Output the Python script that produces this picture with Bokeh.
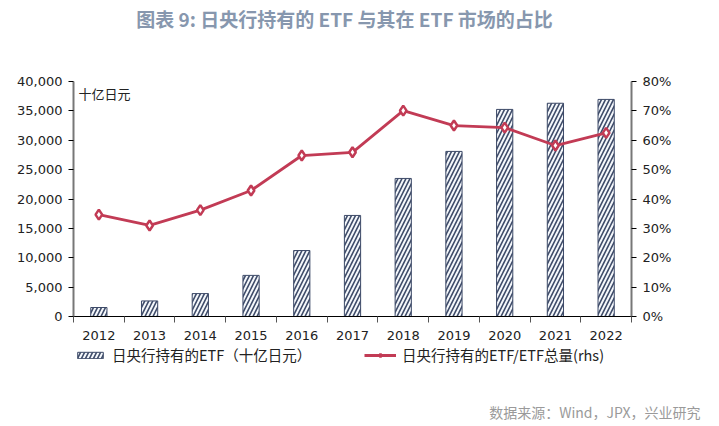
from bokeh.plotting import figure
from bokeh.layouts import column
from bokeh.models import (Range1d, LinearAxis, FixedTicker, NumeralTickFormatter,
                          Legend, LegendItem, Label, ColumnDataSource,
                          CustomJSTickFormatter)
from bokeh.embed import file_html
from bokeh.resources import INLINE

years = [2012, 2013, 2014, 2015, 2016, 2017, 2018, 2019, 2020, 2021, 2022]
boj_etf = [1530, 2650, 3900, 7000, 11230, 17200, 23500, 28100, 35250, 36300, 36950]
boj_share = [34.7, 31.0, 36.2, 42.9, 54.8, 55.9, 70.1, 65.0, 64.3, 58.2, 62.5]
left_ticks = [0, 5000, 10000, 15000, 20000, 25000, 30000, 35000, 40000]
right_ticks = [0, 10, 20, 30, 40, 50, 60, 70, 80]

title_text = "图表 9: 日央行持有的 ETF 与其在 ETF 市场的占比"
unit_text = "十亿日元"
bar_label = "日央行持有的ETF（十亿日元）"
line_label = "日央行持有的ETF/ETF总量(rhs)"
source_text = "数据来源：Wind，JPX，兴业研究"

CJK = "Noto Sans CJK SC"
TICKF = "DejaVu Sans"
navy = "#3d4a68"
red = "#c23b55"
bar_fill = "#f4f7fb"

W = 715
TOP_H, BOT_H = 40, 76
BL, BR, BT, BB = 73, 84, 41, 28
FH = 235
MAIN_H = BT + FH + BB
X0, X1, Y1 = 2011.5, 2022.5, 40000


def text_fig(h):
    f = figure(width=W, height=h, output_backend="svg", toolbar_location=None,
               x_range=Range1d(0, W), y_range=Range1d(0, h),
               min_border=0, min_border_left=0, min_border_right=0,
               min_border_top=0, min_border_bottom=0, frame_align=False)
    f.axis.visible = False
    f.grid.visible = False
    f.outline_line_color = None
    return f


# --- title ---
top = text_fig(TOP_H)
top.add_layout(Label(x=344, y=TOP_H - 18, text=title_text, text_font=CJK,
                     text_font_size="19px", text_font_style="bold",
                     text_color="#8797ae", text_align="center",
                     text_baseline="middle"))

# --- main chart ---
src = ColumnDataSource(dict(x=years, v=boj_etf, s=boj_share))

p = figure(width=W, height=MAIN_H, output_backend="svg", toolbar_location=None,
           x_range=Range1d(X0, X1), y_range=Range1d(0, Y1),
           min_border_left=BL, min_border_right=BR, min_border_top=BT,
           min_border_bottom=BB, frame_align=False)
p.outline_line_color = None
p.grid.visible = False
p.extra_y_ranges = {"pct": Range1d(0, 80)}

hatch_kw = dict(fill_color=bar_fill, line_color=navy, line_width=1,
                hatch_pattern="/", hatch_color=navy, hatch_weight=1.6, hatch_scale=8)
p.vbar(x="x", top="v", width=0.32, source=src, **hatch_kw)
p.line(x="x", y="s", source=src, y_range_name="pct", line_color=red, line_width=2.8)
p.scatter(x="x", y="s", source=src, y_range_name="pct", marker="diamond",
          size=10, fill_color="white", line_color=red, line_width=2.5)

xa = p.xaxis[0]
xa.ticker = FixedTicker(ticks=years, minor_ticks=[y + 0.5 for y in [2011] + years])
xa.major_tick_out = 0
xa.major_tick_in = 0
xa.minor_tick_out = 6
xa.minor_tick_in = 0
xa.minor_tick_line_color = "#555555"
xa.axis_line_color = "black"
xa.major_label_text_font = TICKF
xa.major_label_text_font_size = "13px"
xa.major_label_text_color = "#222222"
xa.major_label_standoff = 8

ya = p.yaxis[0]
ya.ticker = FixedTicker(ticks=left_ticks)
ya.formatter = NumeralTickFormatter(format="0,0")
ya.minor_tick_line_color = None
ya.major_tick_out = 5
ya.major_tick_in = 0
ya.axis_line_color = "#777777"
ya.axis_line_width = 2
ya.major_label_text_font = TICKF
ya.major_label_text_font_size = "13px"
ya.major_label_text_color = "#222222"
ya.major_label_standoff = 6

ra = LinearAxis(y_range_name="pct", ticker=FixedTicker(ticks=right_ticks),
                formatter=CustomJSTickFormatter(code="return tick + '%';"))
ra.minor_tick_line_color = None
ra.major_tick_out = 5
ra.major_tick_in = 0
ra.axis_line_color = "#777777"
ra.axis_line_width = 2
ra.major_label_text_font = TICKF
ra.major_label_text_font_size = "13px"
ra.major_label_text_color = "#222222"
ra.major_label_standoff = 6
p.add_layout(ra, "right")

p.add_layout(Label(x=2011.6, y=37900, text=unit_text, text_font=CJK,
                   text_font_size="13px", text_color="#222222",
                   text_baseline="middle"))

# --- legend + source ---
bot = text_fig(BOT_H)
off = ColumnDataSource(dict(x=[-1000], y=[-1000], t=[-1000]))
r_bar = bot.vbar(x="x", top="t", width=1, source=off, **hatch_kw)
r_line = bot.line(x="x", y="y", source=off, line_color=red, line_width=2.8)
r_pts = bot.scatter(x="x", y="y", source=off, marker="diamond", size=10,
                    fill_color="white", line_color=red, line_width=2.5)
legend = Legend(items=[LegendItem(label=bar_label, renderers=[r_bar]),
                       LegendItem(label=line_label, renderers=[r_line, r_pts])],
                orientation="horizontal", location=(74, BOT_H - 21),
                label_text_font=CJK, label_text_font_size="14.5px",
                label_text_color="#222222", glyph_width=32, glyph_height=8,
                label_width=246, spacing=6, label_standoff=6,
                border_line_color=None, background_fill_alpha=0,
                padding=0, margin=0)
bot.add_layout(legend, "center")
bot.add_layout(Label(x=700, y=BOT_H - 67, text=source_text, text_font=CJK,
                     text_font_size="14px", text_color="#9a9a9a",
                     text_align="right", text_baseline="middle"))

layout = column(top, p, bot, spacing=0)
open("out.html", "w").write(file_html(layout, INLINE))
